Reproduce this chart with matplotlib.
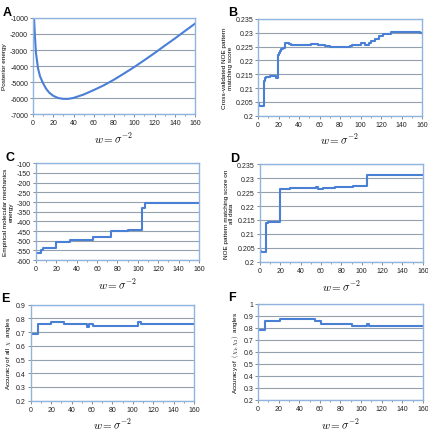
import numpy as np
import matplotlib
matplotlib.use("Agg")
import matplotlib.pyplot as plt

plt.rcParams["font.family"] = ["Liberation Sans", "DejaVu Sans"]
plt.rcParams["mathtext.fontset"] = "cm"

# A: posterior energy vs w
w_a = [1, 2, 3, 5, 7, 10, 13, 16, 20, 25, 30, 35, 40, 50, 60, 70, 80, 90, 100, 110, 120, 130, 140, 150, 160]
e_a = [-900, -2200, -3200, -4150, -4650, -5080, -5420, -5660, -5860, -6000, -6050, -6050, -5990,
       -5780, -5500, -5200, -4850, -4460, -4060, -3630, -3190, -2730, -2280, -1810, -1350]

# B: cross-validated NOE score (step breakpoints)
w_b = [0, 1, 6, 7, 8, 12, 17, 19, 20, 21, 22, 24, 26, 30, 32, 52, 58, 65, 70, 90, 92, 100, 104, 108, 110, 114, 118, 122, 130, 158, 160]
s_b = [0.2045, 0.2035, 0.2125, 0.2135, 0.214, 0.2142, 0.2138, 0.2218, 0.2225, 0.2235, 0.224, 0.2245, 0.2262,
       0.2258, 0.2255, 0.2258, 0.2255, 0.2252, 0.2249, 0.2252, 0.2256, 0.2262, 0.2257, 0.2262, 0.227,
       0.2278, 0.2288, 0.2297, 0.2302, 0.2299, 0.2298]

# C: empirical molecular mechanics energy
w_c = [0, 5, 7, 20, 33, 56, 74, 90, 104, 107, 160]
e_c = [-565, -550, -535, -505, -495, -480, -450, -445, -330, -305, -305]

# D: NOE score on all data
w_d = [0, 1, 6, 8, 20, 30, 55, 57, 62, 74, 91, 105, 160]
s_d = [0.204, 0.2035, 0.2138, 0.2143, 0.2262, 0.2265, 0.2268, 0.2262, 0.2265, 0.2269, 0.2273, 0.2312, 0.2312]

# E: accuracy of all chi angles
w_e = [0, 7, 20, 33, 55, 57, 61, 105, 108, 160]
a_e = [0.685, 0.76, 0.775, 0.76, 0.74, 0.76, 0.745, 0.775, 0.76, 0.76]

# F: accuracy of (chi1, chi2)
w_f = [0, 7, 21, 55, 61, 91, 106, 108, 160]
a_f = [0.78, 0.855, 0.87, 0.855, 0.835, 0.815, 0.835, 0.815, 0.815]

line_c = "#4a7fd6"
frame_c = "#8fb4e0"
grid_c = "#93a0ad"

fig = plt.figure(figsize=(4.28, 4.31), dpi=100)

def panel(rect, letter, ylim, yticks, ylabel, yfmt):
    ax = fig.add_axes(rect)
    ax.set_xlim(0, 160)
    ax.set_ylim(*ylim)
    ax.set_xticks(range(0, 161, 20))
    ax.set_xticks(range(0, 161, 10), minor=True)
    ax.set_yticks(yticks)
    ax.set_yticklabels([yfmt(v) for v in yticks])
    ax.yaxis.grid(True, color=grid_c, lw=0.8)
    ax.set_axisbelow(True)
    for s in ax.spines.values():
        s.set_color(frame_c)
        s.set_linewidth(1.0)
    ax.tick_params(labelsize=5, length=2, width=0.6, color="#777777", pad=1.5, labelcolor="#222222")
    ax.tick_params(which="minor", length=1.5, width=0.5, color="#777777")
    ax.set_ylabel(ylabel, fontsize=4.6, labelpad=2)
    ax.set_xlabel(r"$w=\sigma^{-2}$", fontsize=8, labelpad=3)
    fig.text(rect[0] - 0.07, rect[1] + rect[3] + 0.008, letter, fontsize=9, fontweight="bold")
    return ax

fmt_int = lambda v: "%d" % v
fmt_g = lambda v: ("%g" % round(v, 4))

ax = panel([0.077, 0.733, 0.379, 0.223], "A", (-7000, -1000), range(-7000, -999, 1000), "Posterior energy", fmt_int)
ax.plot(w_a, e_a, color=line_c, lw=1.5, clip_on=True)

ax = panel([0.603, 0.729, 0.383, 0.225], "B", (0.2, 0.235), np.arange(0.2, 0.2351, 0.005),
           "Cross-validated NOE pattern\nmatching score", fmt_g)
ax.step(w_b, s_b, where="post", color=line_c, lw=1.5)

ax = panel([0.084, 0.394, 0.381, 0.225], "C", (-600, -100), range(-600, -99, 50),
           "Empirical molecular mechanics\nenergy", fmt_int)
ax.step(w_c, e_c, where="post", color=line_c, lw=1.5)

ax = panel([0.607, 0.390, 0.381, 0.227], "D", (0.2, 0.235), np.arange(0.2, 0.2351, 0.005),
           "NOE pattern matching score on\nall data", fmt_g)
ax.step(w_d, s_d, where="post", color=line_c, lw=1.5)

ax = panel([0.072, 0.068, 0.381, 0.223], "E", (0.2, 0.9), np.arange(0.2, 0.901, 0.1),
           r"Accuracy of all  $\chi$  angles", fmt_g)
ax.step(w_e, a_e, where="post", color=line_c, lw=1.5)

ax = panel([0.603, 0.070, 0.385, 0.223], "F", (0.2, 1.0), np.arange(0.2, 1.001, 0.1),
           r"Accuracy of  $(\chi_1,\chi_2)$  angles", fmt_g)
ax.step(w_f, a_f, where="post", color=line_c, lw=1.5)

fig.savefig("out.png", dpi=100)
